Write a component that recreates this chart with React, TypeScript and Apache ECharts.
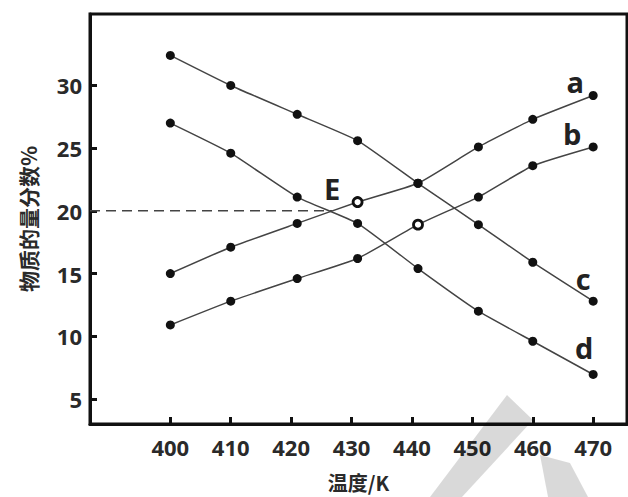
import React, { useEffect, useRef } from "react";
import * as echarts from "echarts";

const temps = [400, 410, 421, 431, 441, 451, 460, 470];
// Mole fraction (%) for each curve
const seriesA = [15.0, 17.1, 19.0, 20.7, 22.2, 25.1, 27.3, 29.2];
const seriesB = [10.9, 12.8, 14.6, 16.2, 18.9, 21.1, 23.6, 25.1];
const seriesC = [32.4, 30.0, 27.7, 25.6, 22.2, 18.9, 15.9, 12.8];
const seriesD = [27.0, 24.6, 21.1, 19.0, 15.4, 12.0, 9.6, 6.95];
const curveNames = ["a", "b", "c", "d"];
// hollow marker indices per curve
const hollowA = [3];
const hollowB = [4];
// Tick labels
const xTicks = [400, 410, 420, 430, 440, 450, 460, 470];
const yTicks = [5, 10, 15, 20, 25, 30];
// Point E (dashed reference line level)
const pointE = [426.8, 20];
const xMin = 386.7;
const xMax = 475.6;
const yMin = 3.0;
const yMax = 35.7;

const FONT = "'Open Sans', 'Noto Sans', sans-serif";
const CJK = "'Noto Sans CJK SC', sans-serif";

export default function App() {
  const ref = useRef<HTMLDivElement>(null);
  useEffect(() => {
    if (!ref.current) return;
    const chart = echarts.init(ref.current, undefined, { renderer: "svg" });

    const labelOffsets: number[][] = [
      [-18, -14],
      [-21, -13],
      [-10, -23],
      [-9, -27],
    ];
    const allValues = [seriesA, seriesB, seriesC, seriesD];
    const hollows = [hollowA, hollowB, [], []];

    const curveSeries = allValues.map((vals, si) => ({
      type: "line",
      name: curveNames[si],
      smooth: 0.15,
      symbol: "circle",
      symbolSize: 9,
      lineStyle: { color: "#444", width: 1.5 },
      itemStyle: { color: "#111" },
      z: 3,
      data: vals.map((v, i) => {
        const item: any = { value: [temps[i], v] };
        if (hollows[si].indexOf(i) >= 0) {
          item.itemStyle = { color: "#fff", borderColor: "#111", borderWidth: 2.8 };
        }
        if (i === vals.length - 1) {
          item.label = {
            show: true,
            formatter: curveNames[si],
            position: "inside",
            offset: labelOffsets[si],
            fontSize: 29,
            fontWeight: "bold",
            fontFamily: FONT,
            color: "#222",
          };
        }
        return item;
      }),
    }));

    const option: any = {
      animation: false,
      backgroundColor: "#fff",
      grid: {
        left: 90,
        right: 1,
        top: 14,
        bottom: 70,
        show: true,
        borderColor: "#111",
        borderWidth: 3,
        backgroundColor: "transparent",
      },
      graphic: [
        {
          type: "polygon",
          z: 100,
          shape: { points: [[507, 395], [533, 420], [462, 497], [430, 497]] },
          style: { fill: "rgba(0,0,0,0.15)" },
        },
        {
          type: "polygon",
          z: 100,
          shape: { points: [[540, 455], [570, 463], [588, 497], [548, 497]] },
          style: { fill: "rgba(0,0,0,0.15)" },
        },
      ],
      xAxis: {
        type: "value",
        min: xMin,
        max: xMax,
        name: "温度/K",
        nameLocation: "middle",
        nameGap: 48,
        nameTextStyle: { fontSize: 20, fontWeight: "bold", fontFamily: CJK, color: "#2a2a2a" },
        axisLine: { show: true, lineStyle: { color: "#111", width: 3 } },
        axisTick: { show: true, inside: true, length: 7, lineStyle: { color: "#111", width: 3 }, customValues: xTicks },
        axisLabel: {
          customValues: xTicks,
          fontSize: 22,
          fontWeight: "bold",
          fontFamily: FONT,
          color: "#2a2a2a",
          margin: 12,
        },
        splitLine: { show: false },
      },
      yAxis: {
        type: "value",
        min: yMin,
        max: yMax,
        name: "物质的量分数%",
        nameLocation: "middle",
        nameGap: 52,
        nameTextStyle: { fontSize: 21, fontWeight: "bold", fontFamily: CJK, color: "#2a2a2a" },
        axisLine: { show: true, lineStyle: { color: "#111", width: 3 } },
        axisTick: { show: true, inside: true, length: 7, lineStyle: { color: "#111", width: 3 }, customValues: yTicks },
        axisLabel: {
          customValues: yTicks,
          fontSize: 22,
          fontWeight: "bold",
          fontFamily: FONT,
          color: "#2a2a2a",
          margin: 8,
        },
        splitLine: { show: false },
      },
      series: [
        ...curveSeries,
        {
          type: "line",
          name: "E",
          symbol: "circle",
          symbolSize: 1,
          itemStyle: { color: "rgba(0,0,0,0)" },
          lineStyle: { color: "#444", width: 1.5, type: [10, 6] },
          z: 2,
          data: [
            { value: [xMin, pointE[1]] },
            {
              value: pointE,
              label: {
                show: true,
                formatter: "E",
                position: "inside",
                offset: [0, -22],
                fontSize: 29,
                fontWeight: "bold",
                fontFamily: FONT,
                color: "#222",
              },
            },
          ],
        },
      ],
    };
    chart.setOption(option);
    return () => chart.dispose();
  }, []);
  return <div ref={ref} style={{ width: 628, height: 497, position: "absolute", left: 0, top: 0 }} />;
}
